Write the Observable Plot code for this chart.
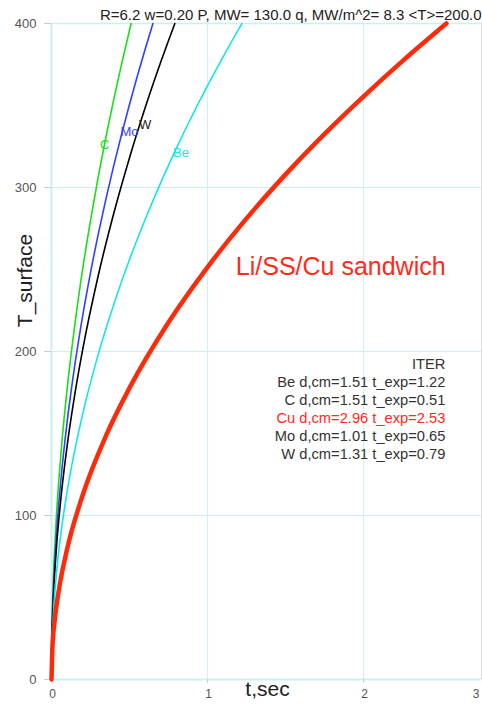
<!DOCTYPE html>
<html><head><meta charset="utf-8">
<script src="https://cdn.jsdelivr.net/npm/d3@7"></script>
<script src="https://cdn.jsdelivr.net/npm/@observablehq/plot@0.6"></script>
<style>
html,body{margin:0;padding:0;background:#fff;overflow:hidden;}
svg{font-family:"Liberation Sans",Arial,sans-serif;}
</style>
</head><body>
<div id="chart"></div>
<script>
// Series (t in seconds, T_surface)
const tC  = [0, 0.002, 0.01, 0.03, 0.06, 0.1, 0.15, 0.2, 0.25, 0.3, 0.35, 0.4, 0.45, 0.51];
const TC  = [0, 25.0, 56.0, 97.0, 137.2, 177.1, 216.9, 250.5, 280.0, 306.8, 331.4, 354.2, 375.7, 400];
const tMo = [0, 0.002, 0.01, 0.03, 0.06, 0.1, 0.15, 0.2, 0.25, 0.3, 0.35, 0.4, 0.45, 0.5, 0.55, 0.6, 0.65];
const TMo = [0, 22.2, 49.6, 85.9, 121.5, 156.9, 192.2, 221.9, 248.1, 271.7, 293.5, 313.8, 332.8, 350.8, 368.0, 384.3, 400];
const tW  = [0, 0.002, 0.01, 0.03, 0.06, 0.1, 0.15, 0.2, 0.3, 0.4, 0.5, 0.6, 0.7, 0.79];
const TW  = [0, 20.1, 45.0, 77.9, 110.2, 142.3, 174.3, 201.3, 246.5, 284.6, 318.2, 348.6, 376.5, 400];
const tBe = [0, 0.002, 0.01, 0.03, 0.06, 0.1, 0.2, 0.3, 0.4, 0.5, 0.6, 0.7, 0.8, 0.9, 1.0, 1.1, 1.22];
const TBe = [0, 16.2, 36.2, 62.7, 88.7, 114.5, 162.0, 198.4, 229.0, 256.1, 280.5, 303.0, 323.9, 343.6, 362.1, 379.8, 400];
const tCu = [0, 0.005, 0.02, 0.05, 0.1, 0.2, 0.35, 0.5, 0.75, 1.0, 1.25, 1.5, 1.75, 2.0, 2.25, 2.53];
const TCu = [0, 17.8, 35.6, 56.2, 79.5, 112.5, 148.8, 177.8, 217.8, 251.5, 281.2, 308.0, 332.7, 355.6, 377.2, 400];

const seriesNames  = ["C", "Mo", "W", "Be"];
const seriesColors = ["#18e018", "#3040ff", "#000000", "#10e8e8"];
const labelT = [0.34, 0.5, 0.6, 0.83];
const labelV = [326, 334, 338, 321];

const xTicks = [0, 1, 2, 3];
const yTicks = [0, 100, 200, 300, 400];
const xMax = 2.755;

const titleText = "R=6.2 w=0.20 P, MW= 130.0 q, MW/m^2= 8.3 <T>=200.0";
const legendLines = ["ITER", "Be d,cm=1.51 t_exp=1.22", "C d,cm=1.51 t_exp=0.51", "Cu d,cm=2.96 t_exp=2.53", "Mo d,cm=1.01 t_exp=0.65", "W d,cm=1.31 t_exp=0.79"];
const legendColors = ["#333", "#333", "#333", "#ff2a1a", "#333", "#333"];
const legendT = [192.1, 181.1, 170.1, 159.1, 148.2, 137.2];

const toRows = (ts, vs, name) => ts.map((t, i) => ({t, v: vs[i], name}));
const thin = [toRows(tC, TC, "C"), toRows(tMo, TMo, "Mo"), toRows(tW, TW, "W"), toRows(tBe, TBe, "Be")];
const cu = toRows(tCu, TCu, "Cu");
const legendRows = legendLines.map((s, i) => ({s, c: legendColors[i], v: legendT[i]}));

const grid = "#c8f2f2";
const chart = Plot.plot({
  width: 482, height: 704,
  marginLeft: 51, marginRight: 1, marginTop: 23, marginBottom: 25,
  x: {domain: [0, xMax], axis: null},
  y: {domain: [0, 400], axis: null},
  marks: [
    Plot.ruleX(xTicks.filter(d => d > 0 && d < xMax), {stroke: grid, strokeWidth: 1}),
    Plot.ruleY(yTicks.filter(d => d > 0 && d < 400), {stroke: grid, strokeWidth: 1}),
    Plot.ruleY([400], {stroke: grid, strokeWidth: 1.5}),
    Plot.ruleX([xMax], {stroke: "#dddddd", strokeWidth: 1}),
    Plot.ruleY([0], {stroke: grid, strokeWidth: 2}),
    Plot.ruleX([0], {stroke: grid, strokeWidth: 2}),
    Plot.axisY({ticks: yTicks, tickSize: 7, tickPadding: 8, stroke: "#ccc", fill: "#555", fontSize: 13, label: null}),
    Plot.axisX({ticks: xTicks.filter(d => d < xMax), tickSize: 4, tickFormat: () => "", stroke: "#ccc", label: null}),
    Plot.text(xTicks.filter(d => d < xMax), {x: d => d, frameAnchor: "bottom", lineAnchor: "top", dy: 10, dx: 1, text: d => String(d), fontSize: 12, fill: "#555"}),
    Plot.text(xTicks.filter(d => d >= xMax), {x: () => xMax, frameAnchor: "bottom", lineAnchor: "top", dy: 10, dx: -2, textAnchor: "end", text: d => String(d), fontSize: 12, fill: "#555"}),
    ...thin.map((rows, i) => Plot.line(rows, {x: "t", y: "v", stroke: seriesColors[i], strokeWidth: 1.6, curve: "monotone-x"})),
    Plot.line(cu, {x: "t", y: "v", stroke: "#ff2a0a", strokeWidth: 4.5, curve: "monotone-x"}),
    Plot.text(seriesNames, {x: (d, i) => labelT[i], y: (d, i) => labelV[i], text: d => d, fill: (d, i) => seriesColors[i] === "#000000" ? "#222" : seriesColors[i], fontSize: 13}),
    Plot.text(legendRows, {x: () => 2.524, y: "v", text: "s", fill: "c", textAnchor: "end", fontSize: 14.7}),
    Plot.text(["Li/SS/Cu sandwich"], {x: () => 1.853, y: () => 251.8, text: d => d, fill: "#ff2a1a", fontSize: 25}),
    Plot.text([titleText], {frameAnchor: "top-right", dy: -14, text: d => d, fill: "#222", fontSize: 15}),
    Plot.text(["T_surface"], {frameAnchor: "left", textAnchor: "middle", lineAnchor: "middle", dx: -26, dy: -71, rotate: -90, text: d => d, fill: "#222", fontSize: 21}),
    Plot.text(["t,sec"], {frameAnchor: "bottom", lineAnchor: "top", dx: 1, dy: 2, text: d => d, fill: "#222", fontSize: 21})
  ]
});
document.getElementById("chart").appendChild(chart);
</script>
</body></html>
